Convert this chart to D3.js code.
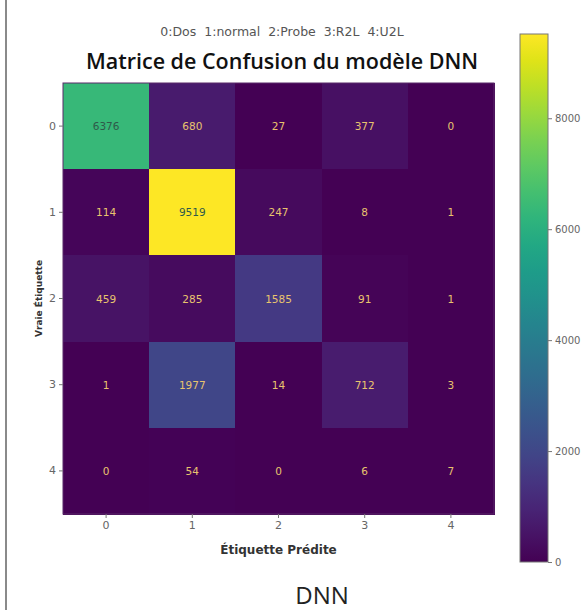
<!DOCTYPE html>
<html>
<head>
<meta charset="utf-8">
<script src="https://cdn.jsdelivr.net/npm/d3@7"></script>
<style>
  body { margin: 0; background: #fff; }
  svg { display: block; }
</style>
</head>
<body>
<svg id="chart" width="588" height="610"></svg>
<script>
// true labels (rows) and predicted labels (columns)
const classes = ['0', '1', '2', '3', '4'];
const legendText = '0:Dos  1:normal  2:Probe  3:R2L  4:U2L';
const row0 = [6376, 680, 27, 377, 0];
const row1 = [114, 9519, 247, 8, 1];
const row2 = [459, 285, 1585, 91, 1];
const row3 = [1, 1977, 14, 712, 3];
const row4 = [0, 54, 0, 6, 7];
const matrix = [row0, row1, row2, row3, row4];
const barTicks = [0, 2000, 4000, 6000, 8000];

const svg = d3.select('#chart');

// plot area
const plotLeft = 63, plotTop = 83, plotSize = 431;

const allVals = matrix.flat();
const vMin = d3.min(allVals), vMax = d3.max(allVals);

const x = d3.scaleBand().domain(classes).range([plotLeft, plotLeft + plotSize]);
const y = d3.scaleBand().domain(classes).range([plotTop, plotTop + plotSize]);
const color = d3.scaleSequential(d3.interpolateViridis).domain([vMin, vMax]);

// left page border line
svg.append('line')
    .attr('x1', 6).attr('x2', 6)
    .attr('y1', 0).attr('y2', 610)
    .attr('stroke', '#8a8a8a')
    .attr('stroke-width', 2);

let cells = [];
matrix.forEach(function(row, i) {
    row.forEach(function(v, j) {
        cells.push({ r: classes[i], c: classes[j], v: v });
    });
});

svg.append('g')
    .attr('shape-rendering', 'crispEdges')
    .selectAll('rect')
    .data(cells)
    .enter().append('rect')
    .attr('x', d => x(d.c))
    .attr('y', d => y(d.r))
    .attr('width', x.bandwidth() + 1)
    .attr('height', y.bandwidth() + 1)
    .attr('fill', d => color(d.v));

const thresh = (vMin + vMax) / 2;
svg.append('g')
    .selectAll('text')
    .data(cells)
    .enter().append('text')
    .attr('x', d => x(d.c) + x.bandwidth() / 2)
    .attr('y', d => y(d.r) + y.bandwidth() / 2)
    .attr('text-anchor', 'middle')
    .attr('dominant-baseline', 'central')
    .attr('font-family', 'DejaVu Sans')
    .attr('font-size', 10.5)
    .attr('fill', d => d.v > thresh ? '#2f5a4a' : '#e8c46e')
    .text(d => d.v);

// frame
svg.append('rect')
    .attr('x', plotLeft).attr('y', plotTop)
    .attr('width', plotSize).attr('height', plotSize)
    .attr('fill', 'none')
    .attr('stroke', '#5a2a6a')
    .attr('stroke-width', 1);

// axes
const xAxis = svg.append('g')
    .attr('transform', 'translate(0,' + (plotTop + plotSize) + ')')
    .call(d3.axisBottom(x).tickSize(4).tickPadding(3));
const yAxis = svg.append('g')
    .attr('transform', 'translate(' + plotLeft + ',0)')
    .call(d3.axisLeft(y).tickSize(4).tickPadding(3));
[xAxis, yAxis].forEach(function(g) {
    g.select('.domain').remove();
    g.selectAll('line').attr('stroke', '#777');
    g.selectAll('text')
        .attr('font-family', 'DejaVu Sans')
        .attr('font-size', 11)
        .attr('fill', '#666');
});

svg.append('text')
    .attr('x', plotLeft + plotSize / 2)
    .attr('y', 554)
    .attr('text-anchor', 'middle')
    .attr('font-family', 'DejaVu Sans')
    .attr('font-weight', 'bold')
    .attr('font-size', 12)
    .attr('fill', '#333')
    .text('Étiquette Prédite');

svg.append('text')
    .attr('transform', 'translate(42,' + (plotTop + plotSize / 2) + ') rotate(-90)')
    .attr('text-anchor', 'middle')
    .attr('font-family', 'DejaVu Sans')
    .attr('font-weight', 'bold')
    .attr('font-size', 9)
    .attr('fill', '#333')
    .text('Vraie Étiquette');

// titles
svg.append('text')
    .attr('x', 282)
    .attr('y', 36)
    .attr('text-anchor', 'middle')
    .attr('font-family', 'DejaVu Sans')
    .attr('font-size', 12.5)
    .attr('fill', '#555')
    .style('white-space', 'pre')
    .text(legendText);

svg.append('text')
    .attr('x', 282)
    .attr('y', 69)
    .attr('text-anchor', 'middle')
    .attr('font-family', 'Open Sans')
    .attr('font-weight', 600)
    .attr('font-size', 21.5)
    .attr('fill', '#111')
    .text('Matrice de Confusion du modèle DNN');

svg.append('text')
    .attr('x', 322)
    .attr('y', 604)
    .attr('text-anchor', 'middle')
    .attr('font-family', 'Open Sans')
    .attr('font-size', 24)
    .attr('fill', '#222')
    .text('DNN');

// colorbar
const cbX = 520, cbW = 28, cbTop = 34, cbBottom = 562;
const cbScale = d3.scaleLinear().domain([vMin, vMax]).range([cbBottom, cbTop]);

const grad = svg.append('defs').append('linearGradient')
    .attr('id', 'viridis')
    .attr('x1', 0).attr('y1', 1).attr('x2', 0).attr('y2', 0);
grad.selectAll('stop')
    .data(d3.range(0, 1.001, 0.05))
    .enter().append('stop')
    .attr('offset', d => d)
    .attr('stop-color', d => d3.interpolateViridis(d));

svg.append('rect')
    .attr('x', cbX).attr('y', cbTop)
    .attr('width', cbW).attr('height', cbBottom - cbTop)
    .attr('fill', 'url(#viridis)')
    .attr('stroke', '#777')
    .attr('stroke-width', 1);

const cbAxis = svg.append('g')
    .attr('transform', 'translate(' + (cbX + cbW) + ',0)')
    .call(d3.axisRight(cbScale).tickValues(barTicks).tickFormat(d3.format('d')).tickSize(4).tickPadding(3));
cbAxis.select('.domain').remove();
cbAxis.selectAll('line').attr('stroke', '#777');
cbAxis.selectAll('text')
    .attr('font-family', 'DejaVu Sans')
    .attr('font-size', 10)
    .attr('fill', '#666');
</script>
</body>
</html>
